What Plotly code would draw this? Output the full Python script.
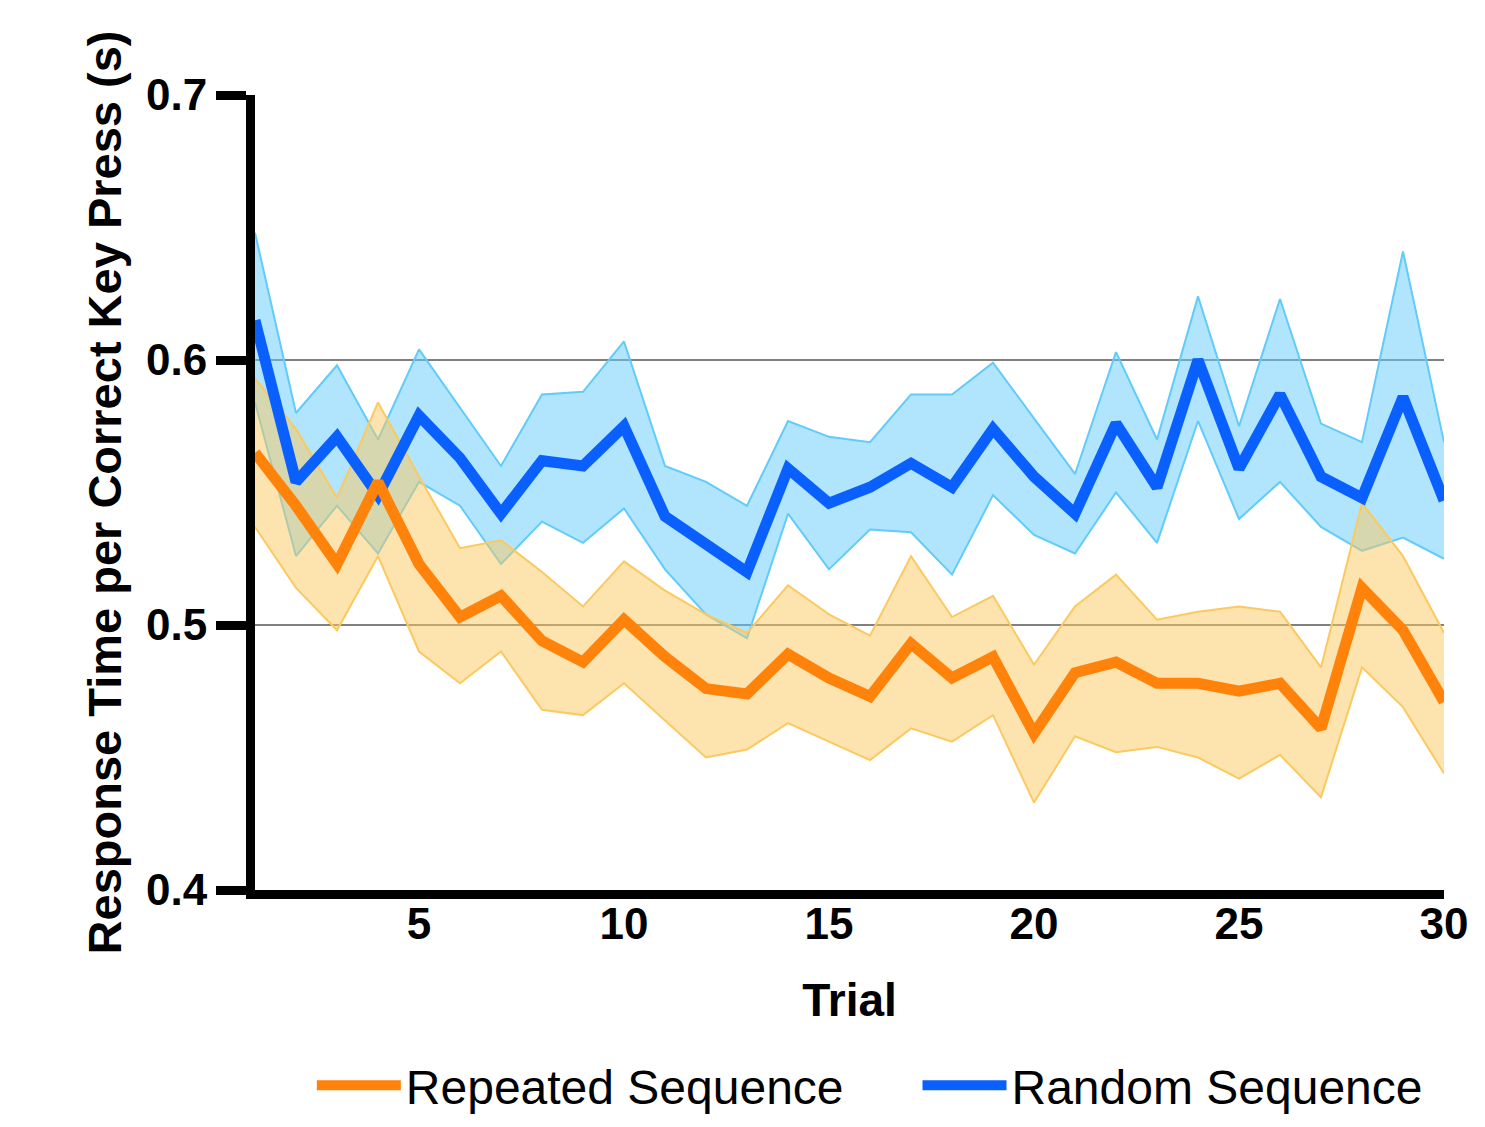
import plotly.graph_objects as go

trials = list(range(1, 31))

random_mean = [0.615, 0.554, 0.571, 0.549, 0.579, 0.563, 0.542, 0.562, 0.560, 0.575,
               0.541, 0.530, 0.520, 0.559, 0.546, 0.552, 0.561, 0.552, 0.574, 0.556,
               0.542, 0.576, 0.552, 0.600, 0.559, 0.587, 0.556, 0.548, 0.586, 0.547]
random_upper = [0.648, 0.580, 0.598, 0.570, 0.604, 0.582, 0.560, 0.587, 0.588, 0.607,
                0.560, 0.554, 0.545, 0.577, 0.571, 0.569, 0.587, 0.587, 0.599, 0.578,
                0.557, 0.603, 0.570, 0.624, 0.575, 0.623, 0.576, 0.569, 0.641, 0.569]
random_lower = [0.584, 0.526, 0.545, 0.527, 0.554, 0.545, 0.523, 0.539, 0.531, 0.544,
                0.521, 0.504, 0.495, 0.542, 0.521, 0.536, 0.535, 0.519, 0.549, 0.534,
                0.527, 0.550, 0.531, 0.577, 0.540, 0.554, 0.537, 0.528, 0.533, 0.525]

repeated_mean = [0.565, 0.545, 0.523, 0.554, 0.523, 0.503, 0.511, 0.494, 0.486, 0.502,
                 0.488, 0.476, 0.474, 0.489, 0.480, 0.473, 0.493, 0.480, 0.488, 0.459,
                 0.482, 0.486, 0.478, 0.478, 0.475, 0.478, 0.461, 0.514, 0.498, 0.471]
repeated_upper = [0.593, 0.574, 0.548, 0.584, 0.556, 0.529, 0.532, 0.520, 0.507, 0.524,
                  0.513, 0.504, 0.497, 0.515, 0.504, 0.496, 0.526, 0.503, 0.511, 0.485,
                  0.507, 0.519, 0.502, 0.505, 0.507, 0.505, 0.484, 0.546, 0.526, 0.497]
repeated_lower = [0.537, 0.514, 0.498, 0.526, 0.490, 0.478, 0.490, 0.468, 0.466, 0.478,
                  0.464, 0.450, 0.453, 0.463, 0.456, 0.449, 0.461, 0.456, 0.466, 0.433,
                  0.458, 0.452, 0.454, 0.450, 0.442, 0.451, 0.435, 0.484, 0.469, 0.444]

x_ticks = [5, 10, 15, 20, 25, 30]
y_ticks = [0.4, 0.5, 0.6, 0.7]

BLUE = "#0A60FF"
BLUE_LIGHT = "rgb(97,203,251)"
BLUE_FILL = "rgba(97,203,251,0.5)"
ORANGE = "#FF830A"
ORANGE_LIGHT = "rgb(251,201,95)"
ORANGE_FILL = "rgba(251,201,95,0.5)"
FONT = "Liberation Sans, Arial, Helvetica, sans-serif"

fig = go.Figure()


def add_band(upper, lower, fill, edge):
    fig.add_trace(go.Scatter(
        x=trials + trials[::-1], y=upper + lower[::-1], fill="toself",
        fillcolor=fill, line=dict(width=0), mode="lines",
        showlegend=False, hoverinfo="skip"))
    for vals in (upper, lower):
        fig.add_trace(go.Scatter(
            x=trials, y=vals, mode="lines", line=dict(color=edge, width=2),
            showlegend=False, hoverinfo="skip"))


add_band(random_upper, random_lower, BLUE_FILL, BLUE_LIGHT)
add_band(repeated_upper, repeated_lower, ORANGE_FILL, ORANGE_LIGHT)

fig.add_trace(go.Scatter(x=trials, y=random_mean, mode="lines", name="Random Sequence",
                         line=dict(color=BLUE, width=11), legend="legend2"))
fig.add_trace(go.Scatter(x=trials, y=repeated_mean, mode="lines", name="Repeated Sequence",
                         line=dict(color=ORANGE, width=11), legend="legend"))

legend_common = dict(orientation="h", xanchor="left", y=-0.246, yanchor="middle",
                     font=dict(size=48, family=FONT, color="black"),
                     itemwidth=84, bgcolor="rgba(0,0,0,0)")

fig.update_layout(
    width=1485, height=1127,
    margin=dict(l=247, r=49, t=87, b=245, autoexpand=False),
    plot_bgcolor="white", paper_bgcolor="white",
    font=dict(family=FONT, color="black"),
    showlegend=True,
    legend=dict(x=0.0478, **legend_common),
    legend2=dict(x=0.5572, **legend_common),
    xaxis=dict(range=[1, 30], tickvals=x_ticks, showgrid=False, zeroline=False,
               automargin=False,
               showline=True, linewidth=9, linecolor="black", ticks="",
               tickfont=dict(size=44, family=FONT, weight="bold", color="black"),
               ticklabelstandoff=-13,
               title=dict(text="Trial", standoff=41,
                          font=dict(size=46, family=FONT, weight="bold", color="black"))),
    yaxis=dict(range=[0.4, 0.7], tickvals=y_ticks, tickformat=".1f",
               automargin=False,
               showgrid=True, gridcolor="#808080", gridwidth=2, zeroline=False,
               showline=True, linewidth=9, linecolor="black",
               ticks="outside", ticklen=30, tickwidth=9, tickcolor="black",
               tickfont=dict(size=44, family=FONT, weight="bold", color="black"),
               title=dict(text="Response Time per Correct Key Press (s)", standoff=13,
                          font=dict(size=47, family=FONT, weight="bold", color="black"))),
)

fig.write_html("out.html")
